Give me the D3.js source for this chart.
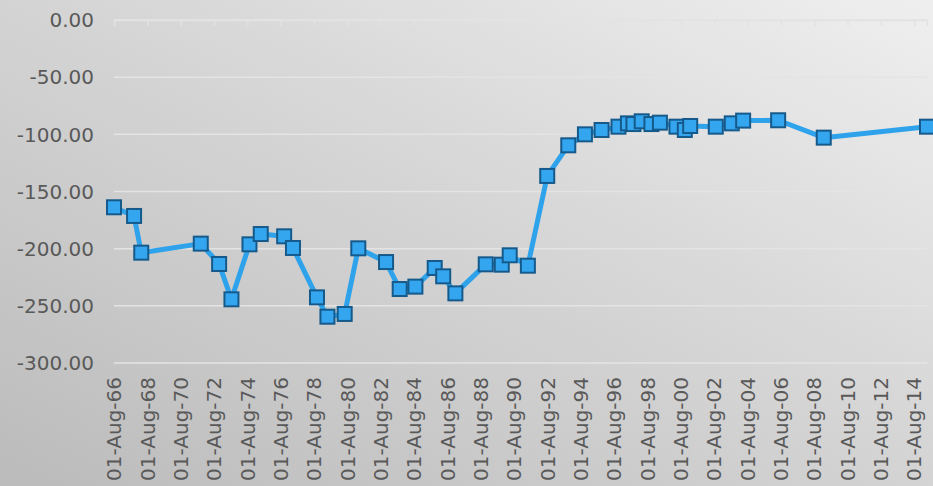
<!DOCTYPE html>
<html>
<head>
<meta charset="utf-8">
<script src="https://cdn.jsdelivr.net/npm/d3@7"></script>
<style>
    html, body { margin: 0; padding: 0; overflow: hidden; }
    svg { display: block; }
</style>
</head>
<body>
<div id="chart"></div>
<script>
    'use strict';

    var dates = [
        "1966-08-01", "1967-10-15", "1968-03-20", "1971-10-15", "1972-11-20",
        "1973-08-17", "1974-09-16", "1975-05-21", "1976-10-15", "1977-04-26",
        "1978-10-04", "1979-05-21", "1980-06-02", "1981-03-27", "1982-11-25",
        "1983-09-20", "1984-08-29", "1985-10-26", "1986-04-30", "1987-01-22",
        "1988-11-17", "1989-11-03", "1990-04-26", "1991-05-29", "1992-07-26",
        "1993-10-30", "1994-10-30", "1995-10-30", "1996-11-03", "1997-05-29",
        "1997-09-27", "1998-03-27", "1998-10-26", "1999-04-30", "2000-04-26",
        "2000-10-26", "2001-02-21", "2002-09-05", "2003-08-21", "2004-04-26",
        "2006-06-02", "2009-02-25", "2015-05-07"
    ];

    // series values
    var values = [
        -163.8, -171.4, -203.5, -195.6, -213.4,
        -244.3, -196.2, -187.2, -189.2, -199.4,
        -242.6, -259.5, -257.1, -199.7, -211.7,
        -235.3, -233.2, -216.9, -224.2, -239.1,
        -213.7, -214.0, -205.8, -214.9, -136.4,
        -109.6, -100.0, -96.2, -93.3, -90.4,
        -91.0, -88.6, -91.0, -89.8, -93.3,
        -96.2, -92.7, -93.3, -90.4, -88.0,
        -87.7, -102.9, -93.3
    ];

    // axis ticks
    var yTicks = [0, -50, -100, -150, -200, -250, -300];
    var xTickYears = [1966, 1968, 1970, 1972, 1974, 1976, 1978, 1980, 1982, 1984, 1986, 1988,
        1990, 1992, 1994, 1996, 1998, 2000, 2002, 2004, 2006, 2008, 2010, 2012, 2014];

    var width = 933, height = 486;
    var parse = d3.timeParse("%Y-%m-%d");
    var fmt = d3.timeFormat("%d-%b-%y");
    // plain hyphen for negatives, like the original
    var yFmt = function (d) { return d3.format(".2f")(d).replace("\u2212", "-"); };

    var data = dates.map(function (d, i) {
        return { date: parse(d), value: values[i] };
    });

    var plotLeft = 114, plotRight = 927, plotTop = 20, plotBottom = 363;

    var x = d3.scaleTime()
        .domain([parse("1966-08-01"), data[data.length - 1].date])
        .range([plotLeft, plotRight]);

    var y = d3.scaleLinear()
        .domain([0, -300])
        .range([plotTop, plotBottom]);

    var svg = d3.select("#chart")
        .append("svg")
        .attr("width", width)
        .attr("height", height);

    // background gradient
    var defs = svg.append("defs");
    var grad = defs.append("linearGradient")
        .attr("id", "bg")
        .attr("x1", 0).attr("y1", 1)
        .attr("x2", 1).attr("y2", 0);
    grad.append("stop").attr("offset", "0%").attr("stop-color", "#bbbbbb");
    grad.append("stop").attr("offset", "55%").attr("stop-color", "#d6d6d6");
    grad.append("stop").attr("offset", "100%").attr("stop-color", "#efefef");

    svg.append("rect")
        .attr("width", width)
        .attr("height", height)
        .attr("fill", "url(#bg)");

    // horizontal gridlines
    svg.selectAll("line.grid")
        .data(yTicks)
        .enter()
        .append("line")
        .attr("class", "grid")
        .attr("x1", plotLeft)
        .attr("x2", plotRight)
        .attr("y1", function (d) { return y(d); })
        .attr("y2", function (d) { return y(d); })
        .attr("stroke", "#e4e4e4")
        .attr("stroke-width", 1.5);

    // y labels
    svg.selectAll("text.ylab")
        .data(yTicks)
        .enter()
        .append("text")
        .attr("class", "ylab")
        .text(yFmt)
        .attr("text-anchor", "end")
        .attr("x", 94)
        .attr("y", function (d) { return y(d); })
        .attr("dy", "0.36em")
        .attr("font-family", "DejaVu Sans, sans-serif")
        .attr("font-size", "20px")
        .attr("fill", "#595959");

    // x axis sits on the zero line, tick marks point down
    var xTicks = xTickYears.map(function (yr) { return new Date(yr, 7, 1); });

    var xAxis = d3.axisBottom(x)
        .tickValues(xTicks)
        .tickSize(6)
        .tickFormat("");

    var axisG = svg.append("g")
        .attr("transform", "translate(0," + y(0) + ")")
        .call(xAxis);
    axisG.select(".domain").attr("stroke", "#e2e2e2").attr("stroke-width", 1.5);
    axisG.selectAll(".tick line").attr("stroke", "#e2e2e2").attr("stroke-width", 1.5);

    // rotated date labels below the plot
    svg.selectAll("text.xlab")
        .data(xTicks)
        .enter()
        .append("text")
        .attr("class", "xlab")
        .text(function (d) { return fmt(d); })
        .attr("text-anchor", "end")
        .attr("transform", function (d) {
            return "translate(" + x(d) + ",377) rotate(-90)";
        })
        .attr("dy", "0.36em")
        .attr("font-family", "DejaVu Sans, sans-serif")
        .attr("font-size", "20px")
        .attr("fill", "#595959");

    // the line
    var line = d3.line()
        .x(function (d) { return x(d.date); })
        .y(function (d) { return y(d.value); });

    svg.append("path")
        .datum(data)
        .attr("d", line)
        .attr("fill", "none")
        .attr("stroke", "#2ea3ec")
        .attr("stroke-width", 5)
        .attr("stroke-linejoin", "round");

    // square markers
    var ms = 14;
    svg.selectAll("rect.marker")
        .data(data)
        .enter()
        .append("rect")
        .attr("class", "marker")
        .attr("x", function (d) { return x(d.date) - ms / 2; })
        .attr("y", function (d) { return y(d.value) - ms / 2; })
        .attr("width", ms)
        .attr("height", ms)
        .attr("fill", "#33a6ef")
        .attr("stroke", "#165a8c")
        .attr("stroke-width", 2);
</script>
</body>
</html>
